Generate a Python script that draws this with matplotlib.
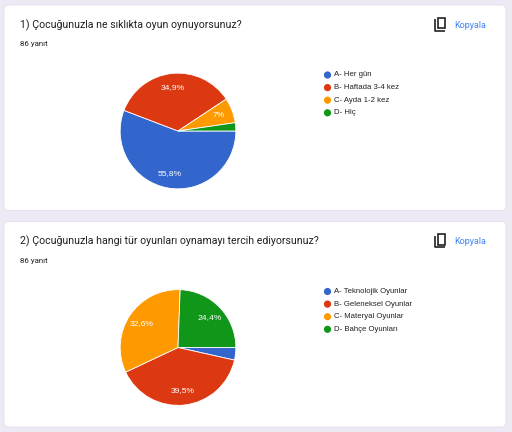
import matplotlib.pyplot as plt
from matplotlib.patches import FancyBboxPatch, Rectangle

# chart data (86 responses each)
titles = ["1) Çocuğunuzla ne sıklıkta oyun oynuyorsunuz?",
          "2) Çocuğunuzla hangi tür oyunları oynamayı tercih ediyorsunuz?"]
answers = ["86 yanıt", "86 yanıt"]
labels1 = ["A- Her gün", "B- Haftada 3-4 kez", "C- Ayda 1-2 kez", "D- Hiç"]
values1 = [55.8, 34.9, 7.0, 2.3]
labels2 = ["A- Teknolojik Oyunlar", "B- Geleneksel Oyunlar", "C- Materyal Oyunlar", "D- Bahçe Oyunları"]
values2 = [3.5, 39.5, 32.6, 24.4]
colors = ["#3366cc", "#dc3912", "#ff9900", "#109618"]

W, H = 512, 432
fig = plt.figure(figsize=(W / 100, H / 100), dpi=100)
fig.patch.set_facecolor("#ede9f5")
bg = fig.add_axes([0, 0, 1, 1])
bg.set_xlim(0, W)
bg.set_ylim(H, 0)
bg.axis("off")

title_font = ["Roboto", "DejaVu Sans"]
chart_font = ["Liberation Sans", "DejaVu Sans"]


def pct(v):
    if v < 5:
        return ""
    s = ("%.1f" % v).rstrip("0").rstrip(".")
    return s.replace(".", ",") + "%"


def card(top, bottom, title, answer, labels, values):
    bg.add_patch(FancyBboxPatch((4, top), 502, bottom - top,
                                boxstyle="round,pad=0,rounding_size=5",
                                fc="white", ec="#e3dfea", lw=0.6))
    bg.text(20, top + 20, title, fontsize=7.6, family=title_font,
            color="#202124", va="center")
    bg.text(20, top + 39, answer, fontsize=5.7, family=title_font,
            color="#202124", va="center")
    # copy icon
    bg.plot([434.5, 434.5, 444.5], [top + 14, top + 25.5, top + 25.5],
            color="#202124", lw=1.2, solid_capstyle="butt")
    bg.add_patch(Rectangle((437.5, top + 12.5), 7, 10.5, fc="white", ec="#202124", lw=1.2))
    bg.text(454, top + 20, "Kopyala", fontsize=6.5, family=title_font,
            color="#4285f4", va="center")

    # pie
    cx, cy, r = 178, top + 126, 59
    pax = fig.add_axes([(cx - r) / W, (H - cy - r) / H, 2 * r / W, 2 * r / H])
    wedges, texts = pax.pie(values, colors=colors, startangle=0, counterclock=False,
                            labels=[pct(v) for v in values], labeldistance=0.75,
                            wedgeprops=dict(edgecolor="white", linewidth=0.6),
                            textprops=dict(color="white", fontsize=6.1, family=chart_font))
    for t in texts:
        t.set_horizontalalignment("center")
        t.set_verticalalignment("center")
    pax.set_xlim(-1.02, 1.02)
    pax.set_ylim(-1.02, 1.02)
    pax.set_aspect("equal")

    # legend
    for i, lab in enumerate(labels):
        y = top + 70 + i * 12.6
        bg.scatter([327.5], [y], s=27, color=colors[i], edgecolors="none")
        bg.text(334, y, lab, fontsize=5.6, family=chart_font, color="#222222", va="center")


card(5, 210.5, titles[0], answers[0], labels1, values1)
card(221.5, 427, titles[1], answers[1], labels2, values2)

fig.savefig("out.png", dpi=100, facecolor=fig.get_facecolor())
